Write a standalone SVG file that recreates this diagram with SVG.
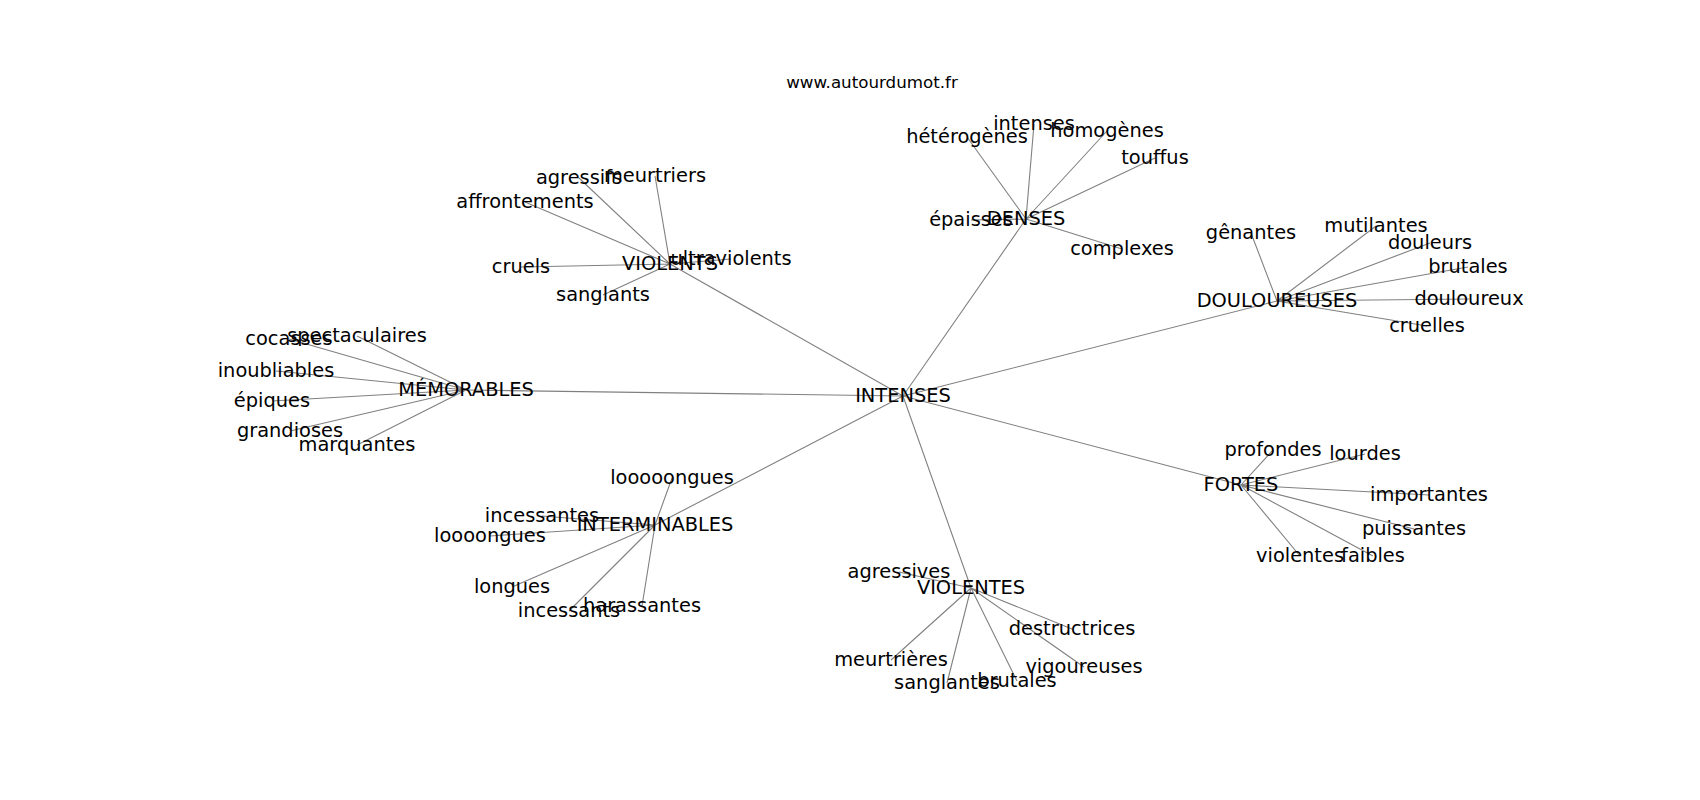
<svg xmlns="http://www.w3.org/2000/svg" width="1700" height="800" viewBox="0 0 1700 800">
<style>
.e{stroke:#808080;stroke-width:1.1;fill:none}
text{font-family:"DejaVu Sans","Liberation Sans",sans-serif;fill:#000}
.n text{font-size:19.4px;text-anchor:middle}
.t{font-size:16.7px;text-anchor:middle}
</style>
<rect width="1700" height="800" fill="#fff"/>
<text class="t" x="872" y="88">www.autourdumot.fr</text>
<g id="edges" class="e">
<path d="M903 396L670 264M903 396L1026 219M903 396L1277 301M903 396L1241 485M903 396L971 588M903 396L655 525M903 396L466 390"/>
<path d="M670 264L579 178M670 264L655 176M670 264L525 202M670 264L521 267M670 264L731 259M670 264L603 295"/>
<path d="M1026 219L1034 124M1026 219L967 137M1026 219L1107 131M1026 219L1155 158M1026 219L971 220M1026 219L1122 249"/>
<path d="M1277 301L1251 233M1277 301L1376 226M1277 301L1430 243M1277 301L1468 267M1277 301L1469 299M1277 301L1427 326"/>
<path d="M466 390L289 339M466 390L357 336M466 390L276 371M466 390L272 401M466 390L290 431M466 390L357 445"/>
<path d="M655 525L672 478M655 525L542 516M655 525L490 536M655 525L512 587M655 525L569 611M655 525L642 606"/>
<path d="M971 588L899 572M971 588L1072 629M971 588L891 660M971 588L947 683M971 588L1017 681M971 588L1084 667"/>
<path d="M1241 485L1273 450M1241 485L1365 454M1241 485L1429 495M1241 485L1414 529M1241 485L1300 556M1241 485L1373 556"/>
</g>
<g class="n">
<g id="n-intenses-hub"><text x="903" y="402">INTENSES</text></g>
<g id="n-violents"><text x="670" y="270">VIOLENTS</text></g>
<g id="n-agressifs"><text x="579" y="184">agressifs</text></g>
<g id="n-meurtriers"><text x="655" y="182">meurtriers</text></g>
<g id="n-affrontements"><text x="525" y="208">affrontements</text></g>
<g id="n-cruels"><text x="521" y="273">cruels</text></g>
<g id="n-ultraviolents"><text x="731" y="265">ultraviolents</text></g>
<g id="n-sanglants"><text x="603" y="301">sanglants</text></g>
<g id="n-denses"><text x="1026" y="225">DENSES</text></g>
<g id="n-intenses"><text x="1034" y="130">intenses</text></g>
<g id="n-heterogenes"><text x="967" y="143">hétérogènes</text></g>
<g id="n-homogenes"><text x="1107" y="137">homogènes</text></g>
<g id="n-touffus"><text x="1155" y="164">touffus</text></g>
<g id="n-epaisses"><text x="971" y="226">épaisses</text></g>
<g id="n-complexes"><text x="1122" y="255">complexes</text></g>
<g id="n-douloureuses"><text x="1277" y="307">DOULOUREUSES</text></g>
<g id="n-genantes"><text x="1251" y="239">gênantes</text></g>
<g id="n-mutilantes"><text x="1376" y="232">mutilantes</text></g>
<g id="n-douleurs"><text x="1430" y="249">douleurs</text></g>
<g id="n-brutales1"><text x="1468" y="273">brutales</text></g>
<g id="n-douloureux"><text x="1469" y="305">douloureux</text></g>
<g id="n-cruelles"><text x="1427" y="332">cruelles</text></g>
<g id="n-memorables"><text x="466" y="396">MÉMORABLES</text></g>
<g id="n-cocasses"><text x="289" y="345">cocasses</text></g>
<g id="n-spectaculaires"><text x="357" y="342">spectaculaires</text></g>
<g id="n-inoubliables"><text x="276" y="377">inoubliables</text></g>
<g id="n-epiques"><text x="272" y="407">épiques</text></g>
<g id="n-grandioses"><text x="290" y="437">grandioses</text></g>
<g id="n-marquantes"><text x="357" y="451">marquantes</text></g>
<g id="n-interminables"><text x="655" y="531">INTERMINABLES</text></g>
<g id="n-looooongues"><text x="672" y="484">looooongues</text></g>
<g id="n-incessantes"><text x="542" y="522">incessantes</text></g>
<g id="n-loooongues"><text x="490" y="542">loooongues</text></g>
<g id="n-longues"><text x="512" y="593">longues</text></g>
<g id="n-incessants"><text x="569" y="617">incessants</text></g>
<g id="n-harassantes"><text x="642" y="612">harassantes</text></g>
<g id="n-violentes-hub"><text x="971" y="594">VIOLENTES</text></g>
<g id="n-agressives"><text x="899" y="578">agressives</text></g>
<g id="n-destructrices"><text x="1072" y="635">destructrices</text></g>
<g id="n-meurtrieres"><text x="891" y="666">meurtrières</text></g>
<g id="n-sanglantes"><text x="947" y="689">sanglantes</text></g>
<g id="n-brutales2"><text x="1017" y="687">brutales</text></g>
<g id="n-vigoureuses"><text x="1084" y="673">vigoureuses</text></g>
<g id="n-fortes"><text x="1241" y="491">FORTES</text></g>
<g id="n-profondes"><text x="1273" y="456">profondes</text></g>
<g id="n-lourdes"><text x="1365" y="460">lourdes</text></g>
<g id="n-importantes"><text x="1429" y="501">importantes</text></g>
<g id="n-puissantes"><text x="1414" y="535">puissantes</text></g>
<g id="n-violentes"><text x="1300" y="562">violentes</text></g>
<g id="n-faibles"><text x="1373" y="562">faibles</text></g>
</g>
</svg>
